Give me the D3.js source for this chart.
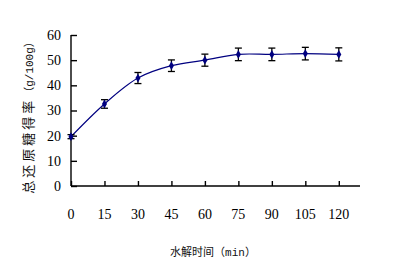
<!DOCTYPE html>
<html>
<head>
<meta charset="utf-8">
<script src="https://cdn.jsdelivr.net/npm/d3@7"></script>
<style>
  body { margin: 0; background: #fff; }
</style>
</head>
<body>
<div id="chart"></div>
<script>
// data
const times = [0, 15, 30, 45, 60, 75, 90, 105, 120];
const yields = [19.6, 32.6, 42.9, 47.8, 50.0, 52.3, 52.3, 52.6, 52.3];
const errors = [0.8, 1.7, 2.2, 2.3, 2.4, 2.5, 2.5, 2.5, 2.6];
const xTicks = [0, 15, 30, 45, 60, 75, 90, 105, 120];
const yTicks = [0, 10, 20, 30, 40, 50, 60];

const W = 395, H = 267;
const svg = d3.select('#chart').append('svg')
  .attr('width', W).attr('height', H);

const x = d3.scaleLinear().domain([0, 129.5]).range([71, 360]);
const y = d3.scaleLinear().domain([0, 60]).range([186, 35]);

const numFont = '"Liberation Serif", "DejaVu Serif", serif';
const cjkFont = '"Noto Sans CJK SC", sans-serif';
const monoFont = '"Liberation Mono", "DejaVu Sans Mono", monospace';

// y axis, ticks pointing inward
const yAxis = svg.append('g')
  .attr('transform', `translate(${x(0)},0)`)
  .call(d3.axisRight(y).tickValues(yTicks).tickSize(6).tickFormat(''));
yAxis.select('.domain').attr('d', `M0,${y(60)}V${y(0)}`);

// x axis, ticks pointing up
const xAxis = svg.append('g')
  .attr('transform', `translate(0,${y(0)})`)
  .call(d3.axisTop(x).tickValues(xTicks).tickSize(5).tickFormat(''));
xAxis.select('.domain').attr('d', `M${x(0)},0H${x(129.5)}`);

svg.selectAll('.domain, .tick line')
  .attr('stroke', '#000').attr('stroke-width', 1.4);

// tick labels
svg.append('g').selectAll('text')
  .data(yTicks).join('text')
  .attr('x', 61).attr('y', d => y(d))
  .attr('dy', '0.35em')
  .attr('text-anchor', 'end')
  .attr('font-family', numFont).attr('font-size', 14)
  .text(d => d);

svg.append('g').selectAll('text')
  .data(xTicks).join('text')
  .attr('x', d => x(d)).attr('y', 214)
  .attr('dy', '0.35em')
  .attr('text-anchor', 'middle')
  .attr('font-family', numFont).attr('font-size', 14)
  .text(d => d);

// axis titles
const yt = svg.append('text')
  .attr('transform', 'translate(28,115) rotate(-90)')
  .attr('text-anchor', 'middle').attr('dy', '0.35em')
  .attr('font-family', cjkFont).attr('font-size', 13)
  .attr('fill', '#111');
yt.append('tspan').attr('letter-spacing', 3).text('总还原糖得率');
yt.append('tspan').attr('font-size', 11).text('（');
yt.append('tspan').attr('font-family', monoFont).attr('font-size', 11).text('g/100g');
yt.append('tspan').attr('font-size', 11).text('）');

const xt = svg.append('text')
  .attr('x', 213).attr('y', 252)
  .attr('text-anchor', 'middle').attr('dy', '0.35em')
  .attr('font-family', cjkFont).attr('font-size', 11)
  .attr('fill', '#111');
xt.append('tspan').text('水解时间（');
xt.append('tspan').attr('font-family', monoFont).text('min');
xt.append('tspan').text('）');

const pts = times.map((t, i) => ({ t, v: yields[i], e: errors[i] }));

// smooth line
const line = d3.line()
  .x(d => x(d.t)).y(d => y(d.v))
  .curve(d3.curveCatmullRom.alpha(0.5));
svg.append('path')
  .datum(pts)
  .attr('d', line)
  .attr('fill', 'none')
  .attr('stroke', '#000080').attr('stroke-width', 1.2);

// error bars
const eb = svg.append('g').attr('stroke', '#000').attr('stroke-width', 1.3);
eb.selectAll('.v').data(pts).join('line')
  .attr('x1', d => x(d.t)).attr('x2', d => x(d.t))
  .attr('y1', d => y(d.v - d.e)).attr('y2', d => y(d.v + d.e));
eb.selectAll('.top').data(pts).join('line')
  .attr('x1', d => x(d.t) - 3.5).attr('x2', d => x(d.t) + 3.5)
  .attr('y1', d => y(d.v + d.e)).attr('y2', d => y(d.v + d.e));
eb.selectAll('.bot').data(pts).join('line')
  .attr('x1', d => x(d.t) - 3.5).attr('x2', d => x(d.t) + 3.5)
  .attr('y1', d => y(d.v - d.e)).attr('y2', d => y(d.v - d.e));

// diamond markers
svg.append('g').selectAll('path')
  .data(pts).join('path')
  .attr('transform', d => `translate(${x(d.t)},${y(d.v)})`)
  .attr('d', d3.symbol(d3.symbolDiamond, 22))
  .attr('fill', '#000080');
</script>
</body>
</html>
